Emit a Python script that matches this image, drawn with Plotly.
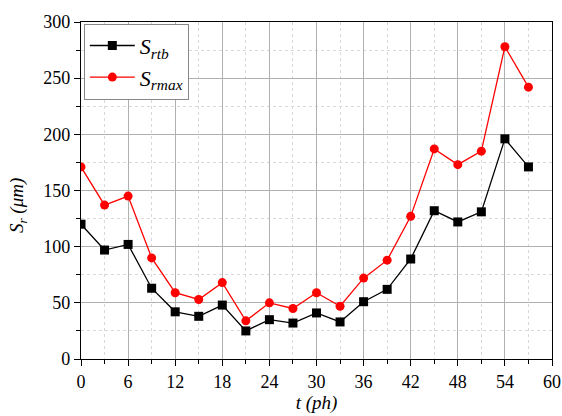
import plotly.graph_objects as go

t = [0, 3, 6, 9, 12, 15, 18, 21, 24, 27, 30, 33, 36, 39, 42, 45, 48, 51, 54, 57]
s_rtb = [120, 97, 102, 63, 42, 38, 48, 25, 35, 32, 41, 33, 51, 62, 89, 132, 122, 131, 196, 171]
s_rmax = [171, 137, 145, 90, 59, 53, 68, 34, 50, 45, 59, 47, 72, 88, 127, 187, 173, 185, 278, 242]

font = "Liberation Serif"

fig = go.Figure()
fig.add_trace(go.Scatter(x=t, y=s_rtb, mode="lines+markers", name="<i>S</i><sub><i>rtb</i></sub>",
                         line=dict(color="black", width=1.3),
                         marker=dict(symbol="square", size=9, color="black")))
fig.add_trace(go.Scatter(x=t, y=s_rmax, mode="lines+markers", name="<i>S</i><sub><i>rmax</i></sub>",
                         line=dict(color="red", width=1.3),
                         marker=dict(symbol="circle", size=9, color="red")))

fig.update_layout(
    width=562, height=416,
    margin=dict(l=81, r=10, t=22, b=57, autoexpand=False),
    paper_bgcolor="white", plot_bgcolor="white",
    font=dict(family=font, size=18, color="black"),
    showlegend=True,
    legend=dict(x=0.006, y=0.995, xanchor="left", yanchor="top",
                bordercolor="#888", borderwidth=1, bgcolor="white",
                font=dict(family=font, size=22), tracegroupgap=0, itemwidth=45),
    xaxis=dict(range=[0, 60], dtick=6, tick0=0, showline=True, linecolor="black", linewidth=1.2,
               mirror=True, ticks="outside", ticklen=6, tickcolor="black", automargin=False,
               showgrid=True, gridcolor="#b0b0b0", gridwidth=1, zeroline=False,
               minor=dict(dtick=3, ticks="outside", ticklen=4, tickcolor="black",
                          showgrid=True, gridcolor="#d8d8d8", griddash="dot"),
               title=dict(text="<i>t (ph)</i>", font=dict(family=font, size=19), standoff=4)),
    yaxis=dict(range=[0, 300], dtick=50, tick0=0, showline=True, linecolor="black", linewidth=1.2,
               mirror=True, ticks="outside", ticklen=6, tickcolor="black", automargin=False,
               showgrid=True, gridcolor="#b0b0b0", gridwidth=1, zeroline=False,
               minor=dict(dtick=25, ticks="outside", ticklen=4, tickcolor="black",
                          showgrid=True, gridcolor="#d8d8d8", griddash="dot")),
    annotations=[dict(text="<i>S<sub>r</sub> (μm)</i>", textangle=-90, showarrow=False,
                      xref="paper", yref="paper", x=-0.135, y=0.455,
                      xanchor="center", yanchor="middle",
                      font=dict(family=font, size=19))],
)
fig.write_html("out.html")
